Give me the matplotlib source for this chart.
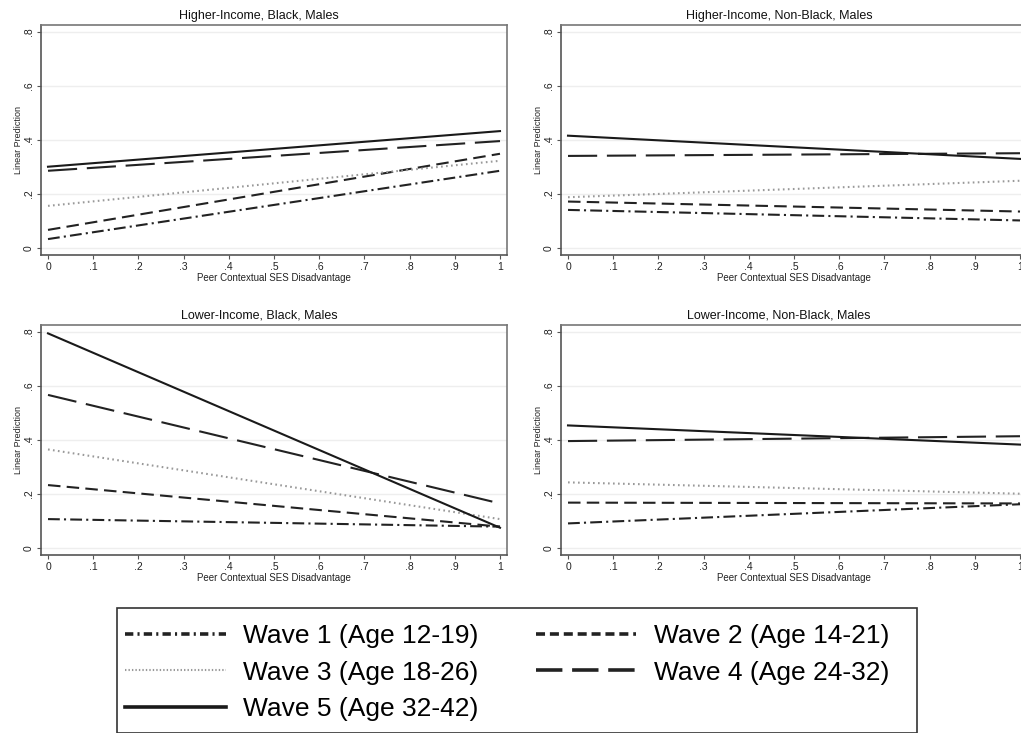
import matplotlib
matplotlib.use("Agg")
from matplotlib import pyplot as plt
from matplotlib import rcParams
from matplotlib.lines import Line2D
from matplotlib.patches import Rectangle
import numpy as np

rcParams["font.family"] = ["Liberation Sans", "DejaVu Sans"]
rcParams["lines.scale_dashes"] = False

# predicted values at x=0 and x=1 (peer contextual SES disadvantage)
x_ends = [0, 1]
panel_titles = ["Higher-Income, Black, Males", "Higher-Income, Non-Black, Males",
                "Lower-Income, Black, Males", "Lower-Income, Non-Black, Males"]
wave_labels = ["Wave 1 (Age 12-19)", "Wave 2 (Age 14-21)", "Wave 3 (Age 18-26)",
               "Wave 4 (Age 24-32)", "Wave 5 (Age 32-42)"]

hi_black = [[0.033, 0.286], [0.067, 0.349], [0.156, 0.323], [0.286, 0.396], [0.301, 0.433]]
hi_nonblack = [[0.141, 0.102], [0.172, 0.135], [0.188, 0.249], [0.341, 0.351], [0.416, 0.330]]
lo_black = [[0.107, 0.079], [0.233, 0.079], [0.365, 0.107], [0.567, 0.165], [0.795, 0.075]]
lo_nonblack = [[0.091, 0.162], [0.168, 0.165], [0.243, 0.201], [0.396, 0.414], [0.454, 0.383]]
panels = [hi_black, hi_nonblack, lo_black, lo_nonblack]

xticks = [0, .1, .2, .3, .4, .5, .6, .7, .8, .9, 1]
xtick_labels = ["0", ".1", ".2", ".3", ".4", ".5", ".6", ".7", ".8", ".9", "1"]
yticks = [0, .2, .4, .6, .8]
ytick_labels = ["0", ".2", ".4", ".6", ".8"]

styles = [
    dict(color="#222222", linestyle=(0, (8.5, 3, 1.5, 3))),
    dict(color="#222222", linestyle=(0, (9, 4.5))),
    dict(color="#999999", linestyle=(0, (1.2, 2.4))),
    dict(color="#222222", linestyle=(0, (21, 7))),
    dict(color="#1a1a1a", linestyle="-"),
]

W, H = 1021, 733
fig = plt.figure(figsize=(W / 100, H / 100), dpi=100)

# axes boxes in pixels: left, top
boxes = [(41, 25), (561, 25), (41, 325), (561, 325)]
for k, (lx, ty) in enumerate(boxes):
    ax = fig.add_axes([lx / W, 1 - (ty + 230) / H, 466 / W, 230 / H])
    for i, vals in enumerate(panels[k]):
        ax.plot(x_ends, vals, linewidth=1.5, **styles[i])
    ax.set_xlim(-0.0155, 1.0155)
    ax.set_ylim(-0.026, 0.826)
    ax.set_xticks(xticks)
    ax.set_xticklabels(xtick_labels, fontsize=7.5, color="#222222")
    ax.set_yticks(yticks)
    ax.set_yticklabels(ytick_labels, fontsize=7.5, rotation=90, va="center", color="#222222")
    ax.tick_params(axis="both", length=3, width=0.8, color="#555555", pad=2)
    ax.grid(axis="y", color="#eeeeee", linewidth=1.0)
    ax.set_axisbelow(True)
    for s in ax.spines.values():
        s.set_color("#777777")
        s.set_linewidth(1.2)
    ax.spines["left"].set_color("#555555")
    ax.spines["bottom"].set_color("#555555")
    ax.set_xlabel("Peer Contextual SES Disadvantage", fontsize=7, labelpad=1, color="#222222")
    ax.set_ylabel("Linear Prediction", fontsize=6.5, labelpad=1, color="#222222")
    ax.text(0.468, 1.015, panel_titles[k], transform=ax.transAxes, ha="center", va="bottom",
            fontsize=9, color="#111111")

# legend box
fig.patches.append(Rectangle((117 / W, 0), 800 / W, 125 / H, transform=fig.transFigure,
                             fill=False, edgecolor="#333333", linewidth=1.2))
handles = [Line2D([], [], linewidth=2.6, **styles[i]) for i in range(5)]
leg_dash = [(0, (6, 3, 1.5, 3)), (0, (6.5, 3.5)), (0, (1, 1.5)), (0, (19, 7)), "-"]
for h, d in zip(handles, leg_dash):
    h.set_linestyle(d)
handles[2].set_linewidth(1.5)
# matplotlib fills columns first; reorder so rows read W1 W2 / W3 W4 / W5
order = [0, 2, 4, 1, 3]
fig.legend([handles[i] for i in order], [wave_labels[i] for i in order], ncol=2,
           frameon=False, fontsize=19,
           loc="upper left", bbox_to_anchor=(120 / W, 1 - 619 / H),
           handlelength=3.8, handletextpad=0.65, columnspacing=2.2,
           labelspacing=0.47, borderpad=0.2, borderaxespad=0)

plt.savefig("out.png", dpi=100)
